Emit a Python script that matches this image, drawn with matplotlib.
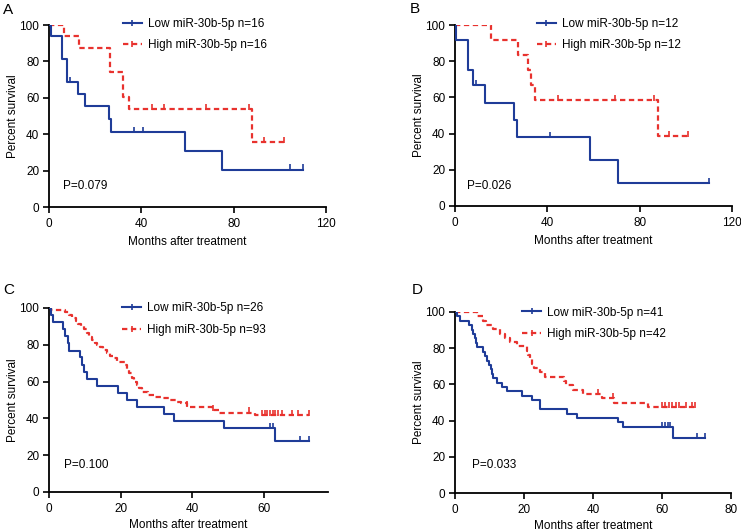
import matplotlib
matplotlib.use("Agg")
import matplotlib.pyplot as plt
from matplotlib.lines import Line2D
import numpy as np

plt.rcParams['font.family'] = ['Liberation Sans', 'DejaVu Sans']
plt.rcParams['font.size'] = 8.5

BLUE = '#1f3c98'
RED = '#e8322e'

# ---- data (months, percent survival) ----
# Panel A
a_low_t = [0, 0.7, 5.8, 7.7, 12.7, 15.8, 25.8, 26.9, 59, 75, 110]
a_low_s = [100, 93.8, 81.3, 68.8, 62.1, 55.4, 48.3, 41.1, 30.8, 20.6, 20.6]
a_low_c = [9.1, 37, 40.9, 104.5, 110]
a_high_t = [0, 6.4, 12.8, 26.6, 32.2, 34.6, 88, 102]
a_high_s = [100, 93.8, 87.3, 74.2, 60.5, 53.7, 35.7, 35.7]
a_high_c = [44.8, 50, 68, 86.5, 93, 102]

# Panel B
b_low_t = [0, 0.5, 5.8, 7.8, 12.8, 25.6, 26.7, 58.7, 70.7, 110]
b_low_s = [100, 91.5, 75, 66.6, 57.1, 47.6, 38.1, 25.3, 12.6, 12.6]
b_low_c = [9.1, 41, 110]
b_high_t = [0, 15.6, 27.5, 31.7, 32.8, 34.6, 87.8, 101]
b_high_s = [100, 91.7, 83.5, 75, 66.7, 58.3, 38.8, 38.8]
b_high_c = [44.8, 69.4, 86, 92.5, 101]

# Panel C
c_low_t = [0, 0.5, 1, 4, 4.6, 5.2, 5.7, 8.6, 9.1, 9.8, 10.5, 13.5, 19.3, 21.9,
           24.5, 32.2, 34.9, 48.8, 63.1, 72.8]
c_low_s = [100, 96.2, 92.3, 88.5, 84.6, 80.8, 76.9, 73.1, 69.2, 65.4, 61.5, 57.7,
           53.8, 50, 46.2, 42.3, 38.5, 34.6, 27.7, 27.7]
c_low_c = [61.7, 62.6, 70.2, 72.8]
c_high_t = [0, 0.5, 4.5, 5.5, 6.5, 7.5, 8.2, 9, 9.8, 10.5, 11.3, 12, 12.8, 13.5,
            14.2, 15.2, 16.2, 17, 17.8, 18.9, 21.2, 21.7, 22.4, 23.1, 23.8, 24.5,
            25.2, 25.9, 27.7, 29.5, 31.4, 33.8, 35.5, 37, 38.5, 45.5, 47.5, 57.5, 72.8]
c_high_s = [100, 98.9, 97.8, 96.2, 94.6, 93.1, 91.5, 90, 88.5, 86.2, 84.5, 82.8,
            80.8, 79.8, 78.7, 77.2, 75.6, 73.8, 72.6, 70.8, 69, 66.3, 64.5, 61.8,
            60, 58.2, 56.4, 54.5, 52.7, 51.8, 50.9, 50, 49.1, 48.2, 46.4, 44.6,
            43.1, 41.8, 41.8]
c_high_c = [38.5, 45.8, 56, 59.5, 60.3, 61, 61.8, 62.5, 63.3, 64, 65, 67.8, 69.5, 72.6]

# Panel D
d_low_t = [0, 0.5, 1.5, 4.2, 4.8, 5.3, 5.8, 6.1, 6.5, 8.2, 8.7, 9.4, 9.8, 10.3,
           10.7, 11.1, 12.1, 13.5, 15, 19.3, 22.2, 24.6, 32.4, 35.3, 47.3, 48.8,
           63.2, 72.5]
d_low_s = [100, 97.6, 95.1, 92.7, 90.2, 87.8, 85.4, 82.9, 80.5, 78, 75.6, 73.2,
           70.7, 68.3, 65.9, 63.4, 61, 58.5, 56.1, 53.7, 51.2, 46.3, 43.9, 41.5,
           39, 36.6, 30.5, 30.5]
d_low_c = [60, 60.8, 61.6, 62.4, 70.1, 72.5]
d_high_t = [0, 6.3, 8, 9, 11, 13, 14.5, 16, 18, 20.8, 21.3, 21.7, 22.2, 23, 24.6,
            26, 31.5, 32.3, 34.3, 37.2, 42.5, 46, 56, 69.6]
d_high_s = [100, 97.6, 95.2, 92.9, 90.5, 88.1, 85.7, 83.3, 81, 78.6, 76.2, 73.8,
            71.4, 69, 66.7, 64.3, 61.9, 59.5, 57.1, 54.8, 52.4, 50, 47.6, 47.6]
d_high_c = [41.4, 45.8, 60, 61, 62, 63, 64, 65, 67, 68.7, 69.6]

n_low = [16, 12, 26, 41]
n_high = [16, 12, 93, 42]
p_values = ['P=0.079', 'P=0.026', 'P=0.100', 'P=0.033']
letters = ['A', 'B', 'C', 'D']
xmax = [120, 120, 78, 80]
xticks = [[0, 40, 80, 120], [0, 40, 80, 120], [0, 20, 40, 60], [0, 20, 40, 60, 80]]

panels = [
    (a_low_t, a_low_s, a_low_c, a_high_t, a_high_s, a_high_c),
    (b_low_t, b_low_s, b_low_c, b_high_t, b_high_s, b_high_c),
    (c_low_t, c_low_s, c_low_c, c_high_t, c_high_s, c_high_c),
    (d_low_t, d_low_s, d_low_c, d_high_t, d_high_s, d_high_c),
]

# layout in pixels: left, top(y of 100), width, height
W, H = 741, 531
boxes = [(49, 25, 277, 182), (455, 25, 277, 181), (49, 308, 279, 184), (455, 312, 276, 181)]
letter_pos = [(3, 10), (410, 9), (3, 290), (412, 290)]
legend_x = [0.267, 0.296, 0.262, 0.243]
legend_y = [1.04, 1.04, 1.03, 1.03]
xlabel_pad = [4.5, 4.5, 2.5, 2.5]
p_pos = [(0.05, 0.115), (0.043, 0.11), (0.054, 0.147), (0.062, 0.155)]


def surv_at(t, times, surv):
    i = np.searchsorted(times, t, side='right') - 1
    return surv[i]


fig = plt.figure(figsize=(W / 100, H / 100), dpi=100)

for k, (lt, ls, lc, ht, hs, hc) in enumerate(panels):
    x0, y0, w, h = boxes[k]
    ax = fig.add_axes([x0 / W, 1 - (y0 + h) / H, w / W, h / H])

    ax.step(ht, hs, where='post', color=RED, lw=1.6, ls=(0, (2.4, 1.6)), zorder=2)
    ax.step(lt, ls, where='post', color=BLUE, lw=1.5, zorder=3)
    ax.plot(hc, [surv_at(t, ht, hs) + 1.2 for t in hc], ls='none', marker='|',
            ms=4, mew=1.2, color=RED, zorder=2)
    ax.plot(lc, [surv_at(t, lt, ls) + 1.2 for t in lc], ls='none', marker='|',
            ms=4, mew=1.2, color=BLUE, zorder=3)

    ax.set_xlim(0, xmax[k])
    ax.set_ylim(0, 100)
    ax.set_xticks(xticks[k])
    ax.set_yticks([0, 20, 40, 60, 80, 100])
    for s in ['top', 'right']:
        ax.spines[s].set_visible(False)
    for s in ['left', 'bottom']:
        ax.spines[s].set_linewidth(1.3)
    ax.tick_params(direction='out', length=4, width=1.2, labelsize=8.5)
    ax.tick_params(axis='x', pad=4)
    ax.tick_params(axis='y', pad=3)
    ax.set_xlabel('Months after treatment', labelpad=xlabel_pad[k])
    ax.set_ylabel('Percent survival', labelpad=0.5)

    handles = [
        Line2D([], [], color=BLUE, lw=1.5, marker='|', ms=5, mew=1.2),
        Line2D([], [], color=RED, lw=1.6, ls=(0, (2.4, 1.6)), marker='|', ms=5, mew=1.2),
    ]
    labels = ['Low miR-30b-5p n=%d' % n_low[k], 'High miR-30b-5p n=%d' % n_high[k]]
    ax.legend(handles, labels, loc='upper left', bbox_to_anchor=(legend_x[k], legend_y[k]),
              frameon=False, handlelength=1.6, handletextpad=0.5, labelspacing=0.8,
              borderaxespad=0, borderpad=0, fontsize=8.5)

    ax.text(p_pos[k][0], p_pos[k][1], p_values[k], transform=ax.transAxes,
            va='center', ha='left', fontsize=8.5)

    fig.text(letter_pos[k][0] / W, 1 - letter_pos[k][1] / H, letters[k],
             fontsize=11, va='center', ha='left')

fig.savefig('out.png', dpi=100)
